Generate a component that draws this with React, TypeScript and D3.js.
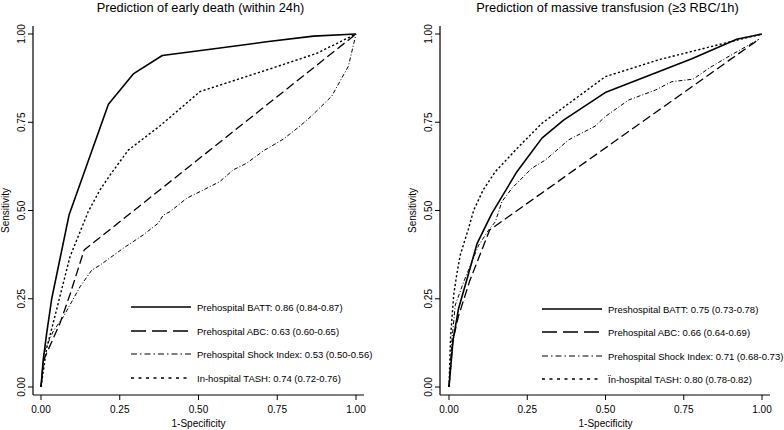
import * as d3 from "d3";

type Pt = [number, number];

const tickValues = [0, 0.25, 0.5, 0.75, 1];

const deathTitle = "Prediction of early death (within 24h)";
const transfusionTitle = "Prediction of massive transfusion (≥3 RBC/1h)";

const deathLabels = [
  "Prehospital BATT: 0.86 (0.84-0.87)",
  "Prehospital ABC: 0.63 (0.60-0.65)",
  "Prehospital Shock Index: 0.53 (0.50-0.56)",
  "In-hospital TASH: 0.74 (0.72-0.76)",
];
const transfusionLabels = [
  "Preshospital BATT: 0.75 (0.73-0.78)",
  "Prehospital ABC: 0.66 (0.64-0.69)",
  "Prehospital Shock Index: 0.71 (0.68-0.73)",
  "Ïn-hospital TASH: 0.80 (0.78-0.82)",
];

// ROC points: [1-specificity, sensitivity]
const deathBATT: Pt[] = [
  [0, 0], [0.007, 0.076], [0.018, 0.152], [0.034, 0.25], [0.089, 0.487],
  [0.15, 0.64], [0.214, 0.801], [0.293, 0.887], [0.385, 0.939],
  [0.55, 0.958], [0.716, 0.978], [0.865, 0.994], [1, 1],
];
const deathABC: Pt[] = [
  [0, 0], [0.007, 0.07], [0.013, 0.086], [0.06, 0.18], [0.092, 0.262],
  [0.137, 0.388], [1, 1],
];
const deathShock: Pt[] = [
  [0, 0], [0.01, 0.1], [0.04, 0.16], [0.071, 0.199], [0.124, 0.284],
  [0.161, 0.331], [0.187, 0.345], [0.261, 0.393], [0.325, 0.431],
  [0.372, 0.464], [0.388, 0.487], [0.41, 0.497], [0.463, 0.535],
  [0.515, 0.558], [0.568, 0.582], [0.61, 0.615], [0.653, 0.634],
  [0.706, 0.669], [0.769, 0.702], [0.822, 0.739], [0.859, 0.768],
  [0.907, 0.81], [0.923, 0.824], [0.976, 0.909], [1, 1],
];
const deathTASH: Pt[] = [
  [0, 0], [0.018, 0.11], [0.044, 0.2], [0.092, 0.369], [0.15, 0.497],
  [0.187, 0.558], [0.219, 0.6], [0.277, 0.671], [0.378, 0.74],
  [0.505, 0.837], [0.716, 0.898], [0.875, 0.945], [1, 1],
];

const transBATT: Pt[] = [
  [0, 0], [0.013, 0.133], [0.03, 0.22], [0.09, 0.407], [0.137, 0.492],
  [0.217, 0.61], [0.297, 0.705], [0.366, 0.756], [0.499, 0.834],
  [0.776, 0.93], [0.919, 0.985], [1, 1],
];
const transABC: Pt[] = [
  [0, 0], [0.012, 0.13], [0.03, 0.2], [0.066, 0.3], [0.13, 0.445],
  [0.99, 0.985],
];
const transShock: Pt[] = [
  [0, 0], [0.01, 0.14], [0.02, 0.232], [0.047, 0.298], [0.095, 0.402],
  [0.127, 0.445], [0.148, 0.468], [0.169, 0.525], [0.201, 0.563],
  [0.265, 0.62], [0.308, 0.643], [0.382, 0.7], [0.467, 0.739],
  [0.499, 0.766], [0.574, 0.813], [0.659, 0.841], [0.712, 0.865],
  [0.78, 0.872], [0.834, 0.905], [0.887, 0.933], [0.96, 0.97],
  [0.99, 0.985],
];
const transTASH: Pt[] = [
  [0, 0], [0.005, 0.14], [0.015, 0.261], [0.025, 0.32], [0.036, 0.374],
  [0.061, 0.445], [0.079, 0.501], [0.109, 0.558], [0.148, 0.61],
  [0.223, 0.681], [0.297, 0.747], [0.499, 0.879], [0.674, 0.928],
  [0.908, 0.98], [1, 1],
];

const font = "'Liberation Sans', Arial, sans-serif";

// line styles: solid, dashed, dash-dot, dotted
const styles = [
  { w: 1.6, dash: "", legendDash: "" },
  { w: 1.3, dash: "9,4", legendDash: "15,6" },
  { w: 1, dash: "4,2,1,2", legendDash: "6,3,1.5,3" },
  { w: 1.4, dash: "2.2,2.2", legendDash: "3,4.5" },
];

type PanelProps = {
  title: string;
  series: Pt[][];
  labels: string[];
  axisX: number; // vertical axis position
  x0: number;
  x1: number;
  legendX: number;
  legendY: number[];
};

function Panel({ title, series, labels, axisX, x0, x1, legendX, legendY }: PanelProps) {
  const x = d3.scaleLinear().domain([0, 1]).range([x0, x1]);
  const y = d3.scaleLinear().domain([0, 1]).range([387, 34]);
  const top = 26;
  const bottom = 395;
  const right = x1 + 8;
  const line = d3
    .line<Pt>()
    .x((d) => x(d[0]))
    .y((d) => y(d[1]));
  const fmt = d3.format(".2f");
  return (
    <g fontFamily={font}>
      <text x={(x0 + x1) / 2 + 2} y={12} fontSize={12.8} textAnchor="middle">
        {title}
      </text>
      {/* axes */}
      <line x1={axisX} x2={axisX} y1={top} y2={bottom} stroke="#000" strokeWidth={1.2} />
      <line x1={axisX} x2={right} y1={bottom} y2={bottom} stroke="#000" strokeWidth={1.2} />
      {tickValues.map((t) => (
        <g key={"y" + t}>
          <line x1={axisX - 5} x2={axisX} y1={y(t)} y2={y(t)} stroke="#000" />
          <text
            transform={`translate(${axisX - 8.5},${y(t)}) rotate(-90)`}
            textAnchor="middle"
            fontSize={10}
          >
            {fmt(t)}
          </text>
        </g>
      ))}
      {tickValues.map((t) => (
        <g key={"x" + t}>
          <line x1={x(t)} x2={x(t)} y1={bottom} y2={bottom + 5} stroke="#000" />
          <text x={x(t)} y={413} textAnchor="middle" fontSize={10}>
            {fmt(t)}
          </text>
        </g>
      ))}
      <text x={(x0 + x1) / 2} y={427} textAnchor="middle" fontSize={10}>
        1-Specificity
      </text>
      <text
        transform={`translate(${axisX - 24},${(top + bottom) / 2}) rotate(-90)`}
        textAnchor="middle"
        fontSize={10}
      >
        Sensitivity
      </text>
      {series.map((s, i) => (
        <path
          key={i}
          d={line(s) || ""}
          fill="none"
          stroke="#000"
          strokeWidth={styles[i].w}
          strokeDasharray={styles[i].dash}
          strokeLinejoin="round"
        />
      ))}
      {labels.map((lab, i) => (
        <g key={lab}>
          <line
            x1={legendX}
            x2={legendX + 60}
            y1={legendY[i]}
            y2={legendY[i]}
            stroke="#000"
            strokeWidth={styles[i].w}
            strokeDasharray={styles[i].legendDash}
          />
          <text x={legendX + 66} y={legendY[i] + 3.5} fontSize={9.5}>
            {lab}
          </text>
        </g>
      ))}
    </g>
  );
}

export default function App() {
  return (
    <svg
      width={784}
      height={430}
      style={{ position: "absolute", left: 0, top: 0, background: "#fff" }}
    >
      <rect width={784} height={430} fill="#fff" />
      <Panel
        title={deathTitle}
        series={[deathBATT, deathABC, deathShock, deathTASH]}
        labels={deathLabels}
        axisX={33}
        x0={41}
        x1={356}
        legendX={131}
        legendY={[307, 331, 354, 378]}
      />
      <Panel
        title={transfusionTitle}
        series={[transBATT, transABC, transShock, transTASH]}
        labels={transfusionLabels}
        axisX={440}
        x0={449}
        x1={762}
        legendX={542}
        legendY={[309, 332, 356, 379]}
      />
    </svg>
  );
}
